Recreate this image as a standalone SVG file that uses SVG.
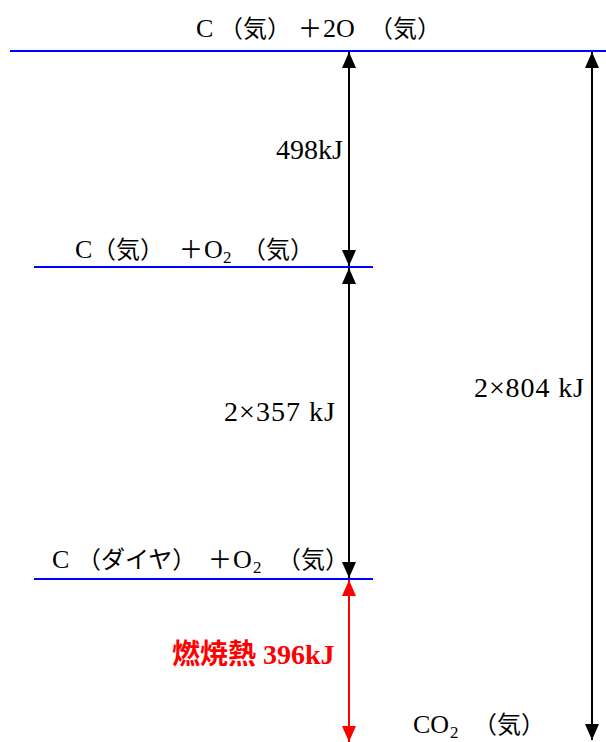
<svg xmlns="http://www.w3.org/2000/svg" width="606" height="742" viewBox="0 0 606 742">
<style>
.lt{font-family:"Liberation Serif",serif;font-size:26px;fill:#000}
.cj{font-family:"Noto Sans CJK JP",sans-serif;font-size:24px;fill:#000}
.sb{font-family:"Liberation Serif",serif;font-size:17px;fill:#000}
.n{font-family:"Liberation Serif","Noto Sans CJK JP",serif;font-size:28px;fill:#000}
.r{font-family:"Liberation Serif","Noto Sans CJK JP",serif;font-size:28px;font-weight:bold;fill:#ff0000}
.lvl{stroke:#0000ff;stroke-width:2;fill:none}
.ab{stroke:#000;stroke-width:2;fill:none}
.ar{stroke:#ff0000;stroke-width:2;fill:none}
</style>
<defs>
<marker id="hb" viewBox="0 0 16 14" refX="16" refY="7" markerWidth="16" markerHeight="14" markerUnits="userSpaceOnUse" orient="auto-start-reverse"><path d="M0,0 L16,7 L0,14 Z" fill="#000"/></marker>
<marker id="hr" viewBox="0 0 16 14" refX="16" refY="7" markerWidth="16" markerHeight="14" markerUnits="userSpaceOnUse" orient="auto-start-reverse"><path d="M0,0 L16,7 L0,14 Z" fill="#ff0000"/></marker>
</defs>
<g id="level1"><line class="lvl" x1="10" y1="51" x2="606" y2="51"/>
<text class="lt" x="196" y="37">C</text><text class="cj" x="219" y="37">（気）</text><text class="cj" x="298" y="37">＋</text><text class="lt" x="323" y="37">2O</text><text class="cj" x="369" y="37">（気）</text></g>
<g id="level2"><line class="lvl" x1="34" y1="267" x2="373" y2="267"/>
<text class="lt" x="75" y="258">C</text><text class="cj" x="92" y="258">（気）</text><text class="cj" x="179" y="258">＋</text><text class="lt" x="204" y="258">O</text><text class="sb" x="223" y="263">2</text><text class="cj" x="242" y="258">（気）</text></g>
<g id="level3"><line class="lvl" x1="34" y1="579" x2="373" y2="579"/>
<text class="lt" x="52" y="568">C</text><text class="cj" x="77" y="568">（ダイヤ）</text><text class="cj" x="208" y="568">＋</text><text class="lt" x="233" y="568">O</text><text class="sb" x="253" y="573">2</text><text class="cj" x="277" y="568">（気）</text></g>
<g id="level4"><text class="lt" x="413" y="733">CO</text><text class="sb" x="450" y="738">2</text><text class="cj" x="473" y="733">（気）</text></g>
<g id="connectors">
<line class="ab" x1="349" y1="52" x2="349" y2="266" marker-start="url(#hb)" marker-end="url(#hb)"/>
<line class="ab" x1="349" y1="268" x2="349" y2="578" marker-start="url(#hb)" marker-end="url(#hb)"/>
<line class="ar" x1="349" y1="580" x2="349" y2="742" marker-start="url(#hr)" marker-end="url(#hr)"/>
<line class="ab" x1="592" y1="52" x2="592" y2="740" marker-start="url(#hb)" marker-end="url(#hb)"/>
</g>
<g id="labels">
<text class="n" x="276" y="159">498kJ</text>
<text class="n" x="224" y="421" textLength="111" lengthAdjust="spacing">2×357 kJ</text>
<text class="n" x="474" y="397" textLength="110" lengthAdjust="spacing">2×804 kJ</text>
<text class="r" x="172" y="664">燃焼熱 396kJ</text>
</g>
</svg>
